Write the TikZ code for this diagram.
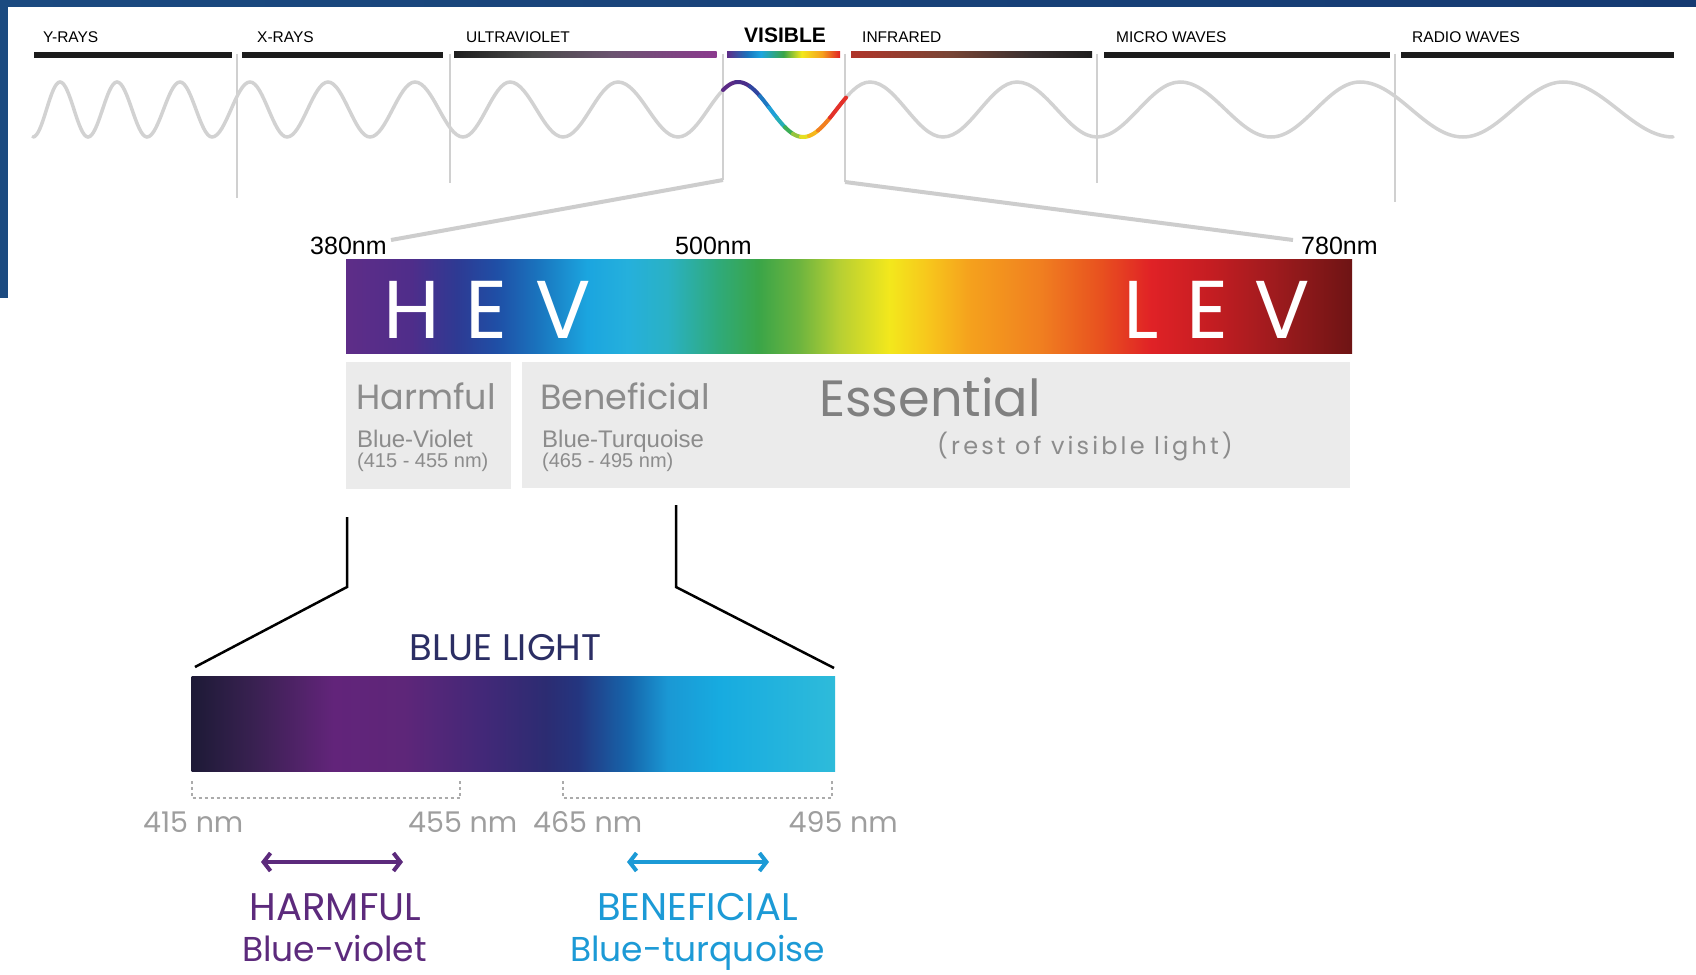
\documentclass[tikz,border=0pt]{standalone}
\usepackage{fontspec}
\setmainfont{Liberation Sans}
\newfontfamily\gothic{Poppins}
\newfontfamily\gothicspaced[LetterSpace=13]{Poppins}
\usepackage{tikz}
\usetikzlibrary{shapes,arrows.meta,positioning}

\definecolor{bandblue}{HTML}{1B4A80}
\definecolor{bandlight}{HTML}{2B6A98}
\definecolor{banddark}{HTML}{153A72}
\definecolor{barblack}{HTML}{1C1C1C}
\definecolor{wavegray}{HTML}{D2D2D2}
\definecolor{linegray}{HTML}{D0D0D0}
\definecolor{zoomgray}{HTML}{CDCDCD}
\definecolor{boxgray}{HTML}{EBEBEB}
\definecolor{txtgray}{HTML}{8C8C8C}
\definecolor{essgray}{HTML}{808080}
\definecolor{nmgray}{HTML}{9E9E9E}
\definecolor{dotgray}{HTML}{ABABAB}
\definecolor{navy}{HTML}{2B2E64}
\definecolor{violet}{HTML}{5C2A7C}
\definecolor{turq}{HTML}{1C9AD6}

\definecolor{spA}{HTML}{5E2D88}
\definecolor{spB}{HTML}{4F2D8A}
\definecolor{spC}{HTML}{2E3A93}
\definecolor{spD}{HTML}{1F4FA6}
\definecolor{spE}{HTML}{1A73BD}
\definecolor{spF}{HTML}{1BA5DF}
\definecolor{spG}{HTML}{25B0DC}
\definecolor{spH}{HTML}{2AB1C4}
\definecolor{spI}{HTML}{2FAA7A}
\definecolor{spJ}{HTML}{3AA548}
\definecolor{spK}{HTML}{6CB43F}
\definecolor{spL}{HTML}{B6CF33}
\definecolor{spM}{HTML}{F3E81C}
\definecolor{spN}{HTML}{F7C51C}
\definecolor{spO}{HTML}{F5A11D}
\definecolor{spP}{HTML}{F07F20}
\definecolor{spQ}{HTML}{E8511F}
\definecolor{spR}{HTML}{E02226}
\definecolor{spS}{HTML}{C41D22}
\definecolor{spT}{HTML}{A01B1E}
\definecolor{spU}{HTML}{6E1414}

\definecolor{blA}{HTML}{1D1A36}
\definecolor{blB}{HTML}{3A2152}
\definecolor{blC}{HTML}{62247A}
\definecolor{blD}{HTML}{5E2679}
\definecolor{blE}{HTML}{432878}
\definecolor{blF}{HTML}{2C2C72}
\definecolor{blG}{HTML}{24357F}
\definecolor{blH}{HTML}{1666AC}
\definecolor{blI}{HTML}{1A98D4}
\definecolor{blJ}{HTML}{17ABE0}
\definecolor{blK}{HTML}{2EBBDA}

\definecolor{vwA}{HTML}{5B2A86}
\definecolor{vwB}{HTML}{4A2D8A}
\definecolor{vwC}{HTML}{2F45A0}
\definecolor{vwD}{HTML}{1E78C2}
\definecolor{vwE}{HTML}{1FA0D8}
\definecolor{vwF}{HTML}{25AEB8}
\definecolor{vwG}{HTML}{3BAE55}
\definecolor{vwH}{HTML}{94C43E}
\definecolor{vwI}{HTML}{E5DF22}
\definecolor{vwJ}{HTML}{F6B81C}
\definecolor{vwK}{HTML}{F2801F}
\definecolor{vwL}{HTML}{E3312A}

\definecolor{uvA}{HTML}{1E1E1E}
\definecolor{uvB}{HTML}{4A4A4A}
\definecolor{uvC}{HTML}{6B5470}
\definecolor{uvD}{HTML}{8B3A8E}
\definecolor{irA}{HTML}{B0352A}
\definecolor{irB}{HTML}{7A4535}
\definecolor{irC}{HTML}{3A3030}

\pgfdeclarehorizontalshading{visspec}{100bp}{color(0bp)=(spA); color(25bp)=(spA); color(28.25bp)=(spB); color(30.5bp)=(spC); color(32.5bp)=(spD); color(34.5bp)=(spE); color(37bp)=(spF); color(39bp)=(spG); color(41bp)=(spH); color(43.5bp)=(spI); color(45.5bp)=(spJ); color(47.5bp)=(spK); color(49.5bp)=(spL); color(52bp)=(spM); color(54bp)=(spN); color(56bp)=(spO); color(59.5bp)=(spP); color(62.5bp)=(spQ); color(65bp)=(spR); color(68bp)=(spS); color(71bp)=(spT); color(75bp)=(spU); color(100bp)=(spU)}
\pgfdeclarehorizontalshading{blueband}{100bp}{color(0bp)=(blA); color(25bp)=(blA); color(30bp)=(blB); color(36bp)=(blC); color(41.5bp)=(blD); color(47.5bp)=(blE); color(52.5bp)=(blF); color(55bp)=(blG); color(59bp)=(blH); color(62bp)=(blI); color(66bp)=(blJ); color(75bp)=(blK); color(100bp)=(blK)}
\pgfdeclarehorizontalshading{visbar}{100bp}{color(0bp)=(spA); color(25bp)=(spA); color(34bp)=(spE); color(40bp)=(spF); color(50bp)=(spJ); color(58bp)=(spM); color(67bp)=(spO); color(75bp)=(spR); color(100bp)=(spR)}
\pgfdeclarehorizontalshading{uvbar}{100bp}{color(0bp)=(uvA); color(25bp)=(uvA); color(40bp)=(uvB); color(55bp)=(uvC); color(75bp)=(uvD); color(100bp)=(uvD)}
\pgfdeclarehorizontalshading{irbar}{100bp}{color(0bp)=(irA); color(25bp)=(irA); color(45bp)=(irB); color(62bp)=(irC); color(75bp)=(uvA); color(100bp)=(uvA)}

\begin{document}
\begin{tikzpicture}[x=1pt, y=-1pt,
	declare function={vis(\t)=(\t<738) ? 109.5+27.5*cos(3*(\t-678)) : ((\t<803) ? 109.5-27.5*cos(2.769*(\t-738)) : 109.5+27.5*cos(2.687*(\t-803)));}]
			\tikzstyle{Sep}		= [linegray, line width=1.5pt]
			\tikzstyle{Wave}	= [wavegray, line width=3.5pt, line cap=round]
			\tikzstyle{Zoom}	= [zoomgray, line width=4pt]
			\tikzstyle{Pointer}	= [black, line width=2.5pt]
			\tikzstyle{Dots}	= [dotgray, line width=2pt, dash pattern=on 3pt off 3pt]
			\tikzstyle{Span}	= [line width=4pt, {Straight Barb[length=7pt,width=18pt]}-{Straight Barb[length=7pt,width=18pt]}]
			\tikzstyle{Spec}	= [inner sep=0pt, draw=none, shade]
			\tikzstyle{Kind}	= [anchor=base west, inner sep=0pt, font=\fontsize{15.5}{16}\selectfont]
			\tikzstyle{Nm}		= [anchor=base west, inner sep=0pt, font=\fontsize{25}{26}\selectfont]
			\tikzstyle{Big}		= [anchor=base west, inner sep=0pt, white, font=\gothic\fontsize{82}{82}\selectfont]
			\tikzstyle{Head}	= [anchor=base west, inner sep=0pt, txtgray, font=\gothic\fontsize{35}{36}\selectfont]
			\tikzstyle{Sub}		= [anchor=base west, inner sep=0pt, txtgray, font=\fontsize{24}{25}\selectfont]
			\tikzstyle{Rng}		= [anchor=base west, inner sep=0pt, txtgray, font=\fontsize{20}{21}\selectfont]
			\tikzstyle{Title}	= [anchor=base, inner sep=0pt, navy, font=\gothic\fontsize{37}{38}\selectfont]
			\tikzstyle{Wlen}	= [anchor=base west, inner sep=0pt, nmgray, font=\gothic\fontsize{28.5}{29}\selectfont]
			\tikzstyle{Cap}		= [anchor=base, inner sep=0pt, font=\gothic\fontsize{38.5}{39}\selectfont]
			\tikzstyle{Low}		= [anchor=base, inner sep=0pt, font=\gothic\fontsize{34.5}{35}\selectfont]
			
			\useasboundingbox (0,0) rectangle (1696,974);
			\fill [white] (0,0) rectangle (1696,974);
			\shade [left color=bandblue, middle color=bandlight, right color=banddark] (0,0) rectangle (1696,7);
			\fill [bandblue] (0,0) rectangle (8,298);
			
			\foreach \xa/\xb in {33.6/232, 242/443, 1104/1390, 1401/1674}
				\fill [barblack] (\xa,52) rectangle (\xb,58);
			\shade [shading=uvbar] (454,52) rectangle (716.5,58);
			\shade [shading=visbar] (727,52) rectangle (840,58);
			\shade [shading=irbar] (851,52) rectangle (1092,58);
			
			\node (gam) at (43,43) [Kind] {Y-RAYS};
			\node (xr) at (257,43) [Kind] {X-RAYS};
			\node (uv) at (466,43) [Kind] {ULTRAVIOLET};
			\node (vis) at (744,43) [Kind, font=\fontsize{21}{22}\selectfont\bfseries] {VISIBLE};
			\node (ir) at (862,43) [Kind] {INFRARED};
			\node (mw) at (1116,43) [Kind] {MICRO WAVES};
			\node (rw) at (1412,43) [Kind] {RADIO WAVES};
			
			\foreach \x/\b in {237/198, 450/183, 723/180, 845/182, 1097/183, 1395/202}
				\draw [Sep] (\x,54) -- (\x,\b);
			
			\draw [Wave] (33,137) \foreach \px/\py [remember=\px as \lx (initially 33)] in {60/82, 88/137, 117/82, 147/137, 180/82, 212/137, 250/82, 287/137, 328/82, 370/137, 415/82, 463/137, 510/82, 563/137, 618/82, 678/137, 738/82, 803/137, 870/82, 943/137, 1017/82, 1097/137, 1180/82, 1271/137, 1360/82, 1463/137, 1563/82, 1673/137} { cos ({(\lx+\px)/2},109.5) sin (\px,\py) };
			\foreach \xa/\xb/\col in {723/736/vwA, 736/750/vwB, 750/760/vwC, 760/769/vwD, 769/777/vwE, 777/785/vwF, 785/793/vwG, 793/801/vwH, 801/809/vwI, 809/818/vwJ, 818/830/vwK, 830/846/vwL}
				\draw [Wave, line width=4pt, \col] plot [domain=\xa:\xb, samples=10, smooth] (\x, {vis(\x)});
			
			\node (n380) at (310,254) [Nm] {380nm};
			\node (n500) at (675,254) [Nm] {500nm};
			\node (n780) at (1301,254) [Nm] {780nm};
			
			\coordinate (zl) at (723,180);
			\coordinate (zr) at (845,182);
			\coordinate (zla) at (391,240);
			\coordinate (zra) at (1293,240);
			\draw [Zoom] (zl) to (zla);
			\draw [Zoom] (zr) to (zra);
			
			\node (spec) at (849,306.7) [Spec, shading=visspec, minimum width=1006pt, minimum height=94pt] {};
			\node (hev) at (383,338) [Big] {H\hspace{26pt}E\hspace{28pt}V};
			\node (lev) at (1123,338) [Big] {L\hspace{28pt}E\hspace{26pt}V};
			
			\fill [boxgray] (346,362) rectangle (510.5,489);
			\fill [boxgray] (522,362) rectangle (1350,488);
			
			\node (harm) at (356,409) [Head] {Harmful};
			\node (hcol) at (357,447) [Sub] {Blue-Violet};
			\node (hrng) at (357,467) [Rng] {(415 - 455 nm)};
			\node (bene) at (540,409) [Head] {Beneficial};
			\node (bcol) at (542,447) [Sub] {Blue-Turquoise};
			\node (brng) at (542,467) [Rng] {(465 - 495 nm)};
			\node (ess) at (819,416) [Head, essgray, font=\gothic\fontsize{51}{52}\selectfont] {Essential};
			\node (rest) at (937,454) [Head, font=\gothicspaced\fontsize{24}{25}\selectfont] {(rest of visible light)};
			
			\coordinate (pl1) at (347,517);
			\coordinate (pl2) at (347,587);
			\coordinate (pl3) at (195,667);
			\coordinate (pr1) at (676,505);
			\coordinate (pr2) at (676,587);
			\coordinate (pr3) at (834,668);
			\draw [Pointer] (pl1) -- (pl2) -- (pl3);
			\draw [Pointer] (pr1) -- (pr2) -- (pr3);
			
			\node (blt) at (505.5,660) [Title] {BLUE LIGHT};
			\node (bl) at (513.25,723.5) [Spec, shading=blueband, minimum width=643.5pt, minimum height=95pt] {};
			
			\draw [Dots] (191.5,781) -- (191.5,798) -- (460,798) -- (460,781);
			\draw [Dots] (563,781) -- (563,798) -- (832,798) -- (832,781);
			
			\node (w415) at (143,832) [Wlen] {415 nm};
			\node (w455) at (408,832) [Wlen] {455 nm};
			\node (w465) at (533,832) [Wlen] {465 nm};
			\node (w495) at (788.5,832) [Wlen] {495 nm};
			
			\coordinate (hl) at (261,862);
			\coordinate (hr) at (403,862);
			\coordinate (tl) at (627,862);
			\coordinate (tr) at (769,862);
			\draw [Span, violet] (hl) to (hr);
			\draw [Span, turq] (tl) to (tr);
			
			\node (harmcap) at (335.5,920) [Cap, violet] {HARMFUL};
			\node (harmsub) at (334.5,961) [Low, violet] {Blue-violet};
			\node (benecap) at (697.5,920) [Cap, turq] {BENEFICIAL};
			\node (benesub) at (697.5,961) [Low, turq] {Blue-turquoise};
		\end{tikzpicture}
\end{document}
